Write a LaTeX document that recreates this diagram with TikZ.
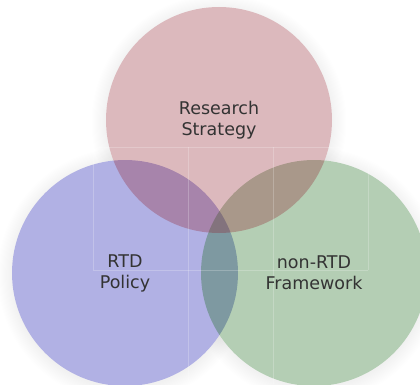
\documentclass[tikz,border=0pt]{standalone}
\usepackage{fontspec}
\setmainfont{DejaVu Sans}
\definecolor{cred}{RGB}{145,32,45}
\definecolor{cblue}{RGB}{6,6,168}
\definecolor{cgreen}{RGB}{13,100,13}
\definecolor{txt}{RGB}{51,51,51}
\tikzset{
  setcircle/.style={circle, minimum size=226pt, inner sep=0pt, fill opacity=0.31},
  setlabel/.style={font=\fontsize{17.5}{21}\selectfont, text=txt, align=center},
  gridline/.style={white, opacity=0.22, line width=0.6pt},
}
\begin{document}
\begin{tikzpicture}[x=1pt,y=1pt]
\useasboundingbox (0,0) rectangle (420,384);
\clip (0,0) rectangle (420,384);
\fill[white] (0,0) rectangle (420,384);
% soft shadows
\foreach \c in {(219,264),(125,111),(314,111)}{
  \foreach \i in {1,...,14}{
    \fill[black, opacity=0.005] \c ++(0,-2) circle ({112+1.1*\i});
  }
}
\foreach \c in {(219,264),(125,111),(314,111)}{
  \fill[white] \c circle (113);
}
\node[setcircle, fill=cblue] (rtd) at (125,111) {};
\node[setcircle, fill=cgreen] (nonrtd) at (314,111) {};
\node[setcircle, fill=cred] (research) at (219,264) {};
% faint tile lines
\draw[gridline] (93,237) -- (368,237);
\draw[gridline] (93,114) -- (368,114);
\draw[gridline] (93,237) -- (93,114);
\draw[gridline] (368,237) -- (368,114);
\draw[gridline] (188,237) -- (188,0);
\draw[gridline] (273,237) -- (273,0);
% labels
\node[setlabel] (researchlbl) at (research.center) {Research\\Strategy};
\node[setlabel] (rtdlbl) at (rtd.center) {RTD\\Policy};
\node[setlabel] (nonrtdlbl) at (nonrtd.center) {non-RTD\\Framework};
\end{tikzpicture}
\end{document}
